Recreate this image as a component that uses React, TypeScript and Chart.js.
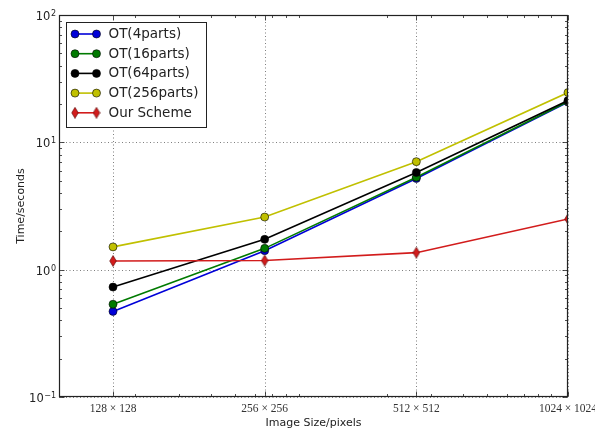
import React, { useEffect, useRef } from "react";
import { Chart, registerables } from "chart.js";

Chart.register(...registerables);

// ---- data ----
const categories = ["128 × 128", "256 × 256", "512 × 512", "1024 × 1024"];
const imageSides = [128, 256, 512, 1024];
const seriesNames = ["OT(4parts)", "OT(16parts)", "OT(64parts)", "OT(256parts)", "Our Scheme"];
const ot4 = [0.47, 1.41, 5.2, 20.7];
const ot16 = [0.535, 1.47, 5.32, 20.9];
const ot64 = [0.73, 1.73, 5.8, 21.3];
const ot256 = [1.51, 2.59, 7.05, 24.6];
const ourScheme = [1.17, 1.18, 1.36, 2.5];
const yTickValues = [0.1, 1, 10, 100];
const yTickBase = "10";
const yTickExponents = ["−1", "0", "1", "2"];
const xTitle = "Image Size/pixels";
const yTitle = "Time/seconds";

const seriesValues = [ot4, ot16, ot64, ot256, ourScheme];
const seriesColors = ["#0000d8", "#007a00", "#000000", "#c0c000", "#d21c1c"];

function makeDiamond(fill: string): HTMLCanvasElement {
  const c = document.createElement("canvas");
  c.width = 8;
  c.height = 12;
  const g = c.getContext("2d")!;
  g.beginPath();
  g.moveTo(4, 0.5);
  g.lineTo(7.3, 6);
  g.lineTo(4, 11.5);
  g.lineTo(0.7, 6);
  g.closePath();
  g.fillStyle = fill;
  g.fill();
  g.lineWidth = 0.6;
  g.strokeStyle = "#500000";
  g.stroke();
  return c;
}

export default function App() {
  const ref = useRef<HTMLCanvasElement | null>(null);

  useEffect(() => {
    if (!ref.current) return;
    const diamond = makeDiamond(seriesColors[4]);
    const xValues = imageSides.map((s) => s * s);

    const datasets = seriesValues.map((vals, si) => ({
      label: seriesNames[si],
      data: vals.map((v, i) => ({ x: xValues[i], y: v })),
      borderColor: seriesColors[si],
      backgroundColor: seriesColors[si],
      borderWidth: 1.6,
      pointRadius: 4,
      pointBorderWidth: 0.6,
      pointBorderColor: si === 4 ? "#500000" : "#000000",
      pointStyle: si === 4 ? (diamond as any) : "circle",
      clip: 0,
      order: 5 - si,
      tension: 0,
    }));

    const minorY: number[] = [];
    [0.1, 1, 10].forEach((d) => {
      for (let k = 2; k <= 9; k++) minorY.push(d * k);
    });
    const minorX: number[] = [];
    [1e4, 1e5, 1e6].forEach((d) => {
      for (let k = 2; k <= 9; k++) if (d * k <= 1048576) minorX.push(d * k);
    });

    const framePlugin = {
      id: "frame",
      beforeDatasetsDraw(chart: any) {
        const { ctx, chartArea: a, scales } = chart;
        ctx.save();
        ctx.strokeStyle = "rgba(0,0,0,0.5)";
        ctx.lineWidth = 1;
        ctx.setLineDash([1, 2.5]);
        xValues.forEach((v) => {
          const px = Math.round(scales.x.getPixelForValue(v)) + 0.5;
          ctx.beginPath();
          ctx.moveTo(px, a.top);
          ctx.lineTo(px, a.bottom);
          ctx.stroke();
        });
        yTickValues.forEach((v) => {
          const py = Math.round(scales.y.getPixelForValue(v)) + 0.5;
          ctx.beginPath();
          ctx.moveTo(a.left, py);
          ctx.lineTo(a.right, py);
          ctx.stroke();
        });
        ctx.restore();
      },
      afterDatasetsDraw(chart: any) {
        const { ctx, chartArea: a, scales } = chart;
        ctx.save();
        ctx.strokeStyle = "#222";
        ctx.lineWidth = 1;
        ctx.setLineDash([]);
        const L = Math.round(a.left) + 0.5;
        const R = Math.round(a.right) - 0.5;
        const T = Math.round(a.top) + 0.5;
        const B = Math.round(a.bottom) - 0.5;
        const tickX = (v: number, len: number) => {
          const px = Math.round(scales.x.getPixelForValue(v)) + 0.5;
          ctx.beginPath();
          ctx.moveTo(px, B);
          ctx.lineTo(px, B - len);
          ctx.moveTo(px, T);
          ctx.lineTo(px, T + len);
          ctx.stroke();
        };
        const tickY = (v: number, len: number) => {
          const py = Math.round(scales.y.getPixelForValue(v)) + 0.5;
          ctx.beginPath();
          ctx.moveTo(L, py);
          ctx.lineTo(L + len, py);
          ctx.moveTo(R, py);
          ctx.lineTo(R - len, py);
          ctx.stroke();
        };
        ctx.lineWidth = 0.8;
        xValues.forEach((v) => tickX(v, 5));
        minorX.forEach((v) => tickX(v, 2.5));
        yTickValues.forEach((v) => tickY(v, 5));
        minorY.forEach((v) => tickY(v, 2.5));
        ctx.lineWidth = 1.2;
        ctx.strokeRect(L, T, R - L, B - T);

        // y tick labels with superscript exponents
        ctx.fillStyle = "#222";
        ctx.textBaseline = "alphabetic";
        ctx.textAlign = "left";
        yTickValues.forEach((v, i) => {
          const py = scales.y.getPixelForValue(v);
          ctx.font = "11.5px 'DejaVu Sans'";
          const wb = ctx.measureText(yTickBase).width;
          ctx.font = "8px 'DejaVu Sans'";
          const we = ctx.measureText(yTickExponents[i]).width;
          const x0 = a.left - 3 - wb - we - 0.5;
          ctx.font = "11.5px 'DejaVu Sans'";
          ctx.fillText(yTickBase, x0, py + 5);
          ctx.font = "8px 'DejaVu Sans'";
          ctx.fillText(yTickExponents[i], x0 + wb + 0.5, py + 1);
        });
        ctx.restore();
      },
      afterDraw(chart: any) {
        const { ctx, chartArea: a } = chart;
        ctx.save();
        const bx = Math.round(a.left) + 7.5;
        const by = Math.round(a.top) + 7.5;
        const bw = 140;
        const bh = 105;
        ctx.fillStyle = "#ffffff";
        ctx.fillRect(bx, by, bw, bh);
        ctx.strokeStyle = "#222";
        ctx.lineWidth = 1;
        ctx.strokeRect(bx, by, bw, bh);
        ctx.font = "13.5px 'DejaVu Sans'";
        ctx.textBaseline = "middle";
        ctx.textAlign = "left";
        seriesNames.forEach((name, i) => {
          const y = by + 11.5 + i * 19.7;
          const x1 = bx + 8.5;
          const x2 = bx + 30;
          ctx.strokeStyle = seriesColors[i];
          ctx.lineWidth = 1.6;
          ctx.beginPath();
          ctx.moveTo(x1, y);
          ctx.lineTo(x2, y);
          ctx.stroke();
          [x1, x2].forEach((x) => {
            if (i === 4) {
              ctx.drawImage(diamond, x - diamond.width / 2, y - diamond.height / 2);
            } else {
              ctx.beginPath();
              ctx.arc(x, y, 4, 0, Math.PI * 2);
              ctx.fillStyle = seriesColors[i];
              ctx.fill();
              ctx.lineWidth = 0.6;
              ctx.strokeStyle = "#000";
              ctx.stroke();
            }
          });
          ctx.fillStyle = "#222";
          ctx.fillText(name, bx + 42, y + 0.5);
        });
        ctx.restore();
      },
    };

    const chart = new Chart(ref.current, {
      type: "line",
      data: { datasets: datasets as any },
      plugins: [framePlugin as any],
      options: {
        responsive: false,
        devicePixelRatio: 1,
        animation: false,
        events: [],
        layout: { padding: { left: 0, right: 27, top: 15, bottom: 0 } },
        plugins: {
          legend: { display: false },
          tooltip: { enabled: false },
        },
        scales: {
          x: {
            type: "logarithmic",
            min: 10000,
            max: 1048576,
            grid: { display: false, drawTicks: false },
            border: { display: false },
            afterBuildTicks: (scale: any) => {
              scale.ticks = xValues.map((v) => ({ value: v, major: true }));
            },
            afterFit: (scale: any) => {
              scale.height = 35;
              scale.paddingLeft = 0;
              scale.paddingRight = 0;
            },
            ticks: {
              autoSkip: false,
              maxRotation: 0,
              minRotation: 0,
              padding: 5,
              color: "#333",
              font: { family: "'Liberation Serif'", size: 11.5 },
              callback: (_v: any, i: number) => categories[i],
            },
            title: {
              display: true,
              text: xTitle,
              color: "#222",
              font: { family: "'DejaVu Sans'", size: 11 },
              padding: { top: 0, bottom: 2.5 },
            },
          },
          y: {
            type: "logarithmic",
            min: 0.1,
            max: 100,
            grid: { display: false, drawTicks: false },
            border: { display: false },
            afterBuildTicks: (scale: any) => {
              scale.ticks = yTickValues.map((v) => ({ value: v, major: true }));
            },
            afterFit: (scale: any) => {
              scale.width = 59;
            },
            ticks: { display: false },
            title: {
              display: true,
              text: yTitle,
              color: "#222",
              font: { family: "'DejaVu Sans'", size: 11 },
              padding: { top: 14.5, bottom: 0 },
            },
          },
        },
      },
    });
    return () => chart.destroy();
  }, []);

  return (
    <div style={{ position: "fixed", left: 0, top: 0, width: 595, height: 432, background: "#fff" }}>
      <canvas ref={ref} width={595} height={432} style={{ display: "block" }} />
    </div>
  );
}
